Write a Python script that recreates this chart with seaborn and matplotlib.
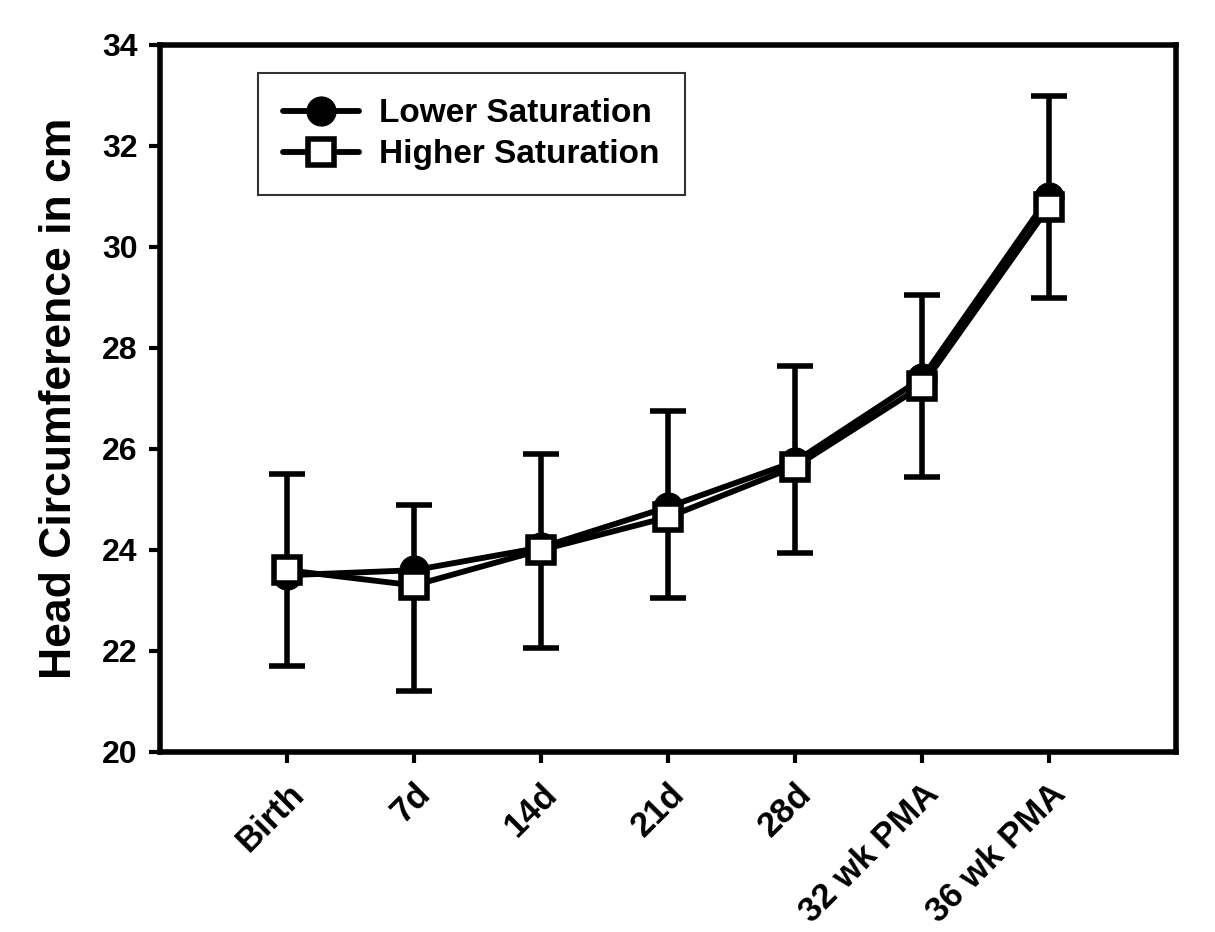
import matplotlib
matplotlib.use("Agg")
import matplotlib.pyplot as plt
import seaborn as sns
import numpy as np

categories = ["Birth", "7d", "14d", "21d", "28d", "32 wk PMA", "36 wk PMA"]
lower_sat = [23.5, 23.6, 24.05, 24.85, 25.75, 27.4, 31.0]
higher_sat = [23.6, 23.3, 24.0, 24.65, 25.65, 27.25, 30.8]
err_low = [21.7, 21.2, 22.05, 23.05, 23.95, 25.45, 29.0]
err_high = [25.5, 24.9, 25.9, 26.75, 27.65, 29.05, 33.0]
y_ticks = [20, 22, 24, 26, 28, 30, 32, 34]

sns.set_theme(style="ticks")
plt.rcParams['font.family'] = ['Liberation Sans', 'DejaVu Sans']
plt.rcParams['font.weight'] = 'bold'
for k in ['text.color', 'axes.labelcolor', 'xtick.color', 'ytick.color', 'axes.edgecolor']:
    plt.rcParams[k] = 'black'

fig = plt.figure(figsize=(12.15, 9.32), dpi=100)
ax = fig.add_axes([160/1215, 1-752/932, (1176-160)/1215, (752-45)/932])

x = np.arange(len(categories))
lo = np.array(lower_sat)
yerr = np.vstack([lo - np.array(err_low), np.array(err_high) - lo])
ax.errorbar(x, lo, yerr=yerr, fmt='none', ecolor='black', elinewidth=4,
            capsize=13, capthick=4, zorder=2)

sns.lineplot(x=x, y=lower_sat, ax=ax, color='black', linewidth=4.2, marker='o',
             markersize=21, markerfacecolor='black', markeredgecolor='black',
             label='Lower Saturation', zorder=3)
sns.lineplot(x=x, y=higher_sat, ax=ax, color='black', linewidth=4.2, marker='s',
             markersize=19, markerfacecolor='white', markeredgecolor='black',
             markeredgewidth=4, label='Higher Saturation', zorder=4)

ax.set_xlim(-1, 7)
ax.set_ylim(20, 34)
ax.set_yticks(y_ticks)
ax.set_yticklabels([str(v) for v in y_ticks], fontsize=23, fontweight='bold')
ax.set_xticks(x)
ax.set_xticklabels(categories, rotation=45, ha='right', rotation_mode='anchor',
                   fontsize=25, fontweight='bold')
ax.tick_params(axis='both', direction='out', length=8, width=3, color='black', pad=8)
ax.tick_params(axis='x', pad=10)
for s in ax.spines.values():
    s.set_visible(True)
    s.set_linewidth(4)
    s.set_color('black')

ax.set_ylabel("Head Circumference in cm", fontsize=32, fontweight='bold', labelpad=16)
ax.set_xlabel("")

leg = ax.legend(loc='upper left', bbox_to_anchor=(0.096, 0.96), fontsize=24,
                frameon=True, fancybox=False, edgecolor='black', handlelength=2.3,
                borderpad=0.75, labelspacing=0.3, handletextpad=0.6, borderaxespad=0)
leg.get_frame().set_linewidth(1.5)
for t in leg.get_texts():
    t.set_fontweight('bold')
    t.set_color('black')

fig.savefig("out.png", dpi=100, facecolor='white')
